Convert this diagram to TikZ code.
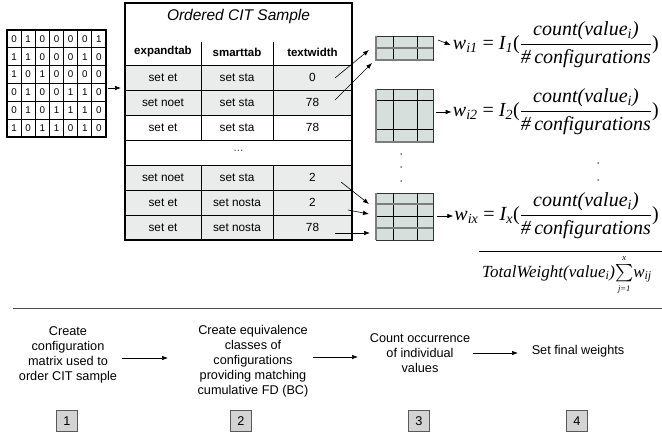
\documentclass[tikz,border=0pt]{standalone}
\usepackage{exscale}
\usepackage{fontspec}
\setmainfont{Liberation Sans}
\newfontfamily\tms{Liberation Serif}
\usetikzlibrary{arrows.meta,calc}
\definecolor{rowgray}{HTML}{E9ECEA}
\definecolor{gridfill}{HTML}{D6DFDC}
\definecolor{boxgray}{HTML}{D3D3D3}
\definecolor{midgray}{HTML}{7A7F7E}
\newcommand\sbx[1]{\textsubscript{#1}}
\begin{document}
\begin{tikzpicture}[x=1pt,y=-1pt,
 arr/.style={-{Latex[length=6pt,width=4.5pt]},line width=0.6pt},
 mnum/.style={font=\fontsize{9.8}{10}\selectfont,inner sep=0},
 tcell/.style={font=\fontsize{11.8}{13}\selectfont,inner sep=0},
 thead/.style={font=\bfseries\fontsize{11.5}{13}\selectfont,inner sep=0},
 gridbox/.style={draw=black!80,line width=0.7pt,fill=gridfill,inner sep=0},
 fml/.style={font=\tms\fontsize{20}{22}\selectfont,inner sep=0,anchor=east},
 stepbox/.style={draw=black!65,fill=boxgray,line width=0.8pt,minimum size=21pt,inner sep=0,font=\fontsize{12.7}{15}\selectfont},
 steptext/.style={align=center,font=\fontsize{12.7}{15}\selectfont,inner sep=0},
]
\useasboundingbox[fill=white] (0,0) rectangle (662,439);

% ---------- configuration matrix ----------
\foreach \i in {1,...,6} \draw[line width=0.8pt] ({7+\i*14.143},30) -- ++(0,107);
\foreach \j in {1,...,5} \draw[line width=0.8pt] (7,{30+\j*17.833}) -- ++(99,0);
\node[draw,line width=2.6pt,minimum width=99pt,minimum height=107pt,inner sep=0] (mat) at (56.5,83.5) {};
\foreach \rowvals [count=\r] in {{0,1,0,0,0,0,1},{1,1,0,0,0,1,0},{1,0,1,0,0,0,0},{0,1,0,0,1,1,0},{0,1,0,1,1,1,0},{1,0,1,1,0,1,0}}{
  \foreach \v [count=\c] in \rowvals {
    \node[mnum] (m\r-\c) at ({7+(\c-0.5)*14.143},{30+(\r-0.5)*17.833}) {\v};
  }
}

% ---------- ordered CIT sample table ----------
\fill[rowgray] (125,65) rectangle (352,115);
\fill[rowgray] (125,165) rectangle (352,240);
\foreach \y in {65,90,115,140,165,190,215} \draw[line width=0.6pt] (125,\y) -- (352,\y);
\foreach \x in {201,273} {
  \draw[line width=0.6pt] (\x,42) -- (\x,140);
  \draw[line width=0.6pt] (\x,165) -- (\x,240);
}
\node[draw,line width=2.8pt,minimum width=227pt,minimum height=237pt,inner sep=0] (tbl) at (238.5,121.5) {};
\node[font=\itshape\fontsize{15.5}{17}\selectfont,inner sep=0] (ttl) at (238.5,16) {Ordered CIT Sample};
\node[thead] (h1) at (163,52) {expandtab};
\node[thead] (h2) at (237,52) {smarttab};
\node[thead] (h3) at (312.5,52) {textwidth};
\foreach \a/\b/\c/\y [count=\k] in {set et/set sta/0/77.5, set noet/set sta/78/102.5, set et/set sta/78/127.5,
   set noet/set sta/2/177.5, set et/set nosta/2/202.5, set et/set nosta/78/227.5}{
  \node[tcell] (r\k a) at (163,\y) {\a};
  \node[tcell] (r\k b) at (237,\y) {\b};
  \node[tcell] (r\k c) at (312.5,\y) {\c};
}
\node[tcell,text=black!70] (ell) at (238.5,151) {...};

\coordinate (ma) at (108,88);
\draw[arr] (ma) -- (121,88) coordinate (mb);

% ---------- small grids ----------
\node[gridbox,minimum width=57pt,minimum height=24pt] (g1) at (404.5,48) {};
\draw[line width=0.7pt] (393,36) -- (393,60) (417,36) -- (417,60);
\draw[midgray,line width=1.3pt] (376,48) -- (433,48);
\draw[midgray,line width=1.4pt] (376,36) -- (376,60) -- (433,60);

\node[gridbox,minimum width=57pt,minimum height=53pt] (g2) at (404.5,115.5) {};
\draw[line width=0.7pt] (393,89) -- (393,142) (417,89) -- (417,142) (376,100) -- (433,100) (376,129) -- (433,129);
\draw[midgray,line width=1.4pt] (376,89) -- (376,142) -- (433,142);

\node[gridbox,minimum width=57pt,minimum height=47pt] (g3) at (404.5,216.5) {};
\draw[line width=0.7pt] (393,193) -- (393,240) (417,193) -- (417,240) (376,216) -- (433,216);
\draw[midgray,line width=1.3pt] (376,204) -- (433,204) (376,228) -- (433,228);
\draw[midgray,line width=1.4pt] (376,193) -- (376,240);

% arrows table -> grids
\coordinate (s1) at (335,78);  \coordinate (t1) at (369,50);
\coordinate (s2) at (335,100); \coordinate (t2) at (372,63);
\coordinate (s3) at (341,182); \coordinate (t3) at (369,204);
\coordinate (s4) at (348,210); \coordinate (t4) at (369,214);
\coordinate (s5) at (335,233); \coordinate (t5) at (370,233);
\foreach \k in {1,...,5} \draw[arr] (s\k) -- (t\k);

% vertical dots
\foreach \y in {154,167,181} \fill (401,\y) circle (0.75);
\foreach \y in {163,180} \fill (598,\y) circle (0.75);

% ---------- formulas ----------
\coordinate (u1) at (438,40);
\node[fml] (f1) at (659,45) {$\displaystyle\hbox{\itshape w\sbx{i1}}\hbox{\ =\ }\hbox{\itshape I\sbx{1}}\hbox{(}\frac{\hbox{\itshape count(value\sbx{i})}}{\hbox{\itshape\#\,configurations}}\hbox{)}$};
\draw[arr] (u1) -- ($(f1.west)+(-2,0)$);

\coordinate (u2) at (436,112);
\node[fml] (f2) at (659,112) {$\displaystyle\hbox{\itshape w\sbx{i2}}\hbox{\ =\ }\hbox{\itshape I\sbx{2}}\hbox{(}\frac{\hbox{\itshape count(value\sbx{i})}}{\hbox{\itshape\#\,configurations}}\hbox{)}$};
\draw[arr] (u2) -- ($(f2.west)+(-1,0)$);

\coordinate (u3) at (437,216);
\node[fml] (f3) at (659,216) {$\displaystyle\hbox{\itshape w\sbx{ix}}\hbox{\ =\ }\hbox{\itshape I\sbx{x}}\hbox{(}\frac{\hbox{\itshape count(value\sbx{i})}}{\hbox{\itshape\#\,configurations}}\hbox{)}$};
\draw[arr] (u3) -- ($(f3.west)+(-1,0)$);

\coordinate (bl) at (479,251);
\coordinate (br) at (662,251);
\draw[line width=0.8pt] (bl) -- (br);
\node[inner sep=0,anchor=base west,font=\tms\itshape\fontsize{17}{19}\selectfont] (tw) at (482,277)
 {TotalWeight(value\sbx{i})$\textstyle\sum\limits_{\hbox{\fontsize{8.5}{9}\selectfont\itshape j=1}}^{\hbox{\fontsize{8.5}{9}\selectfont\itshape x}}$w\sbx{ij}};

% ---------- process steps ----------
\draw[black!70,line width=0.8pt] (13,308) -- (662,308);
\node[steptext] (p1) at (68,354.5) {Create\\configuration\\matrix used to\\order CIT sample};
\node[steptext] (p2) at (253,361) {Create equivalence\\classes of\\configurations\\providing matching\\cumulative FD (BC)};
\node[steptext] (p3) at (420,353) {Count occurrence\\of individual\\values};
\node[steptext] (p4) at (578,351) {Set final weights};
\draw[arr] (122,358) -- (168,358);
\draw[arr] (313,357) -- (358,357);
\draw[arr] (473,353) -- (518,353);
\node[stepbox] (b1) at (67,421) {1};
\node[stepbox] (b2) at (241,421) {2};
\node[stepbox] (b3) at (419,421) {3};
\node[stepbox] (b4) at (577,421) {4};
\end{tikzpicture}
\end{document}
